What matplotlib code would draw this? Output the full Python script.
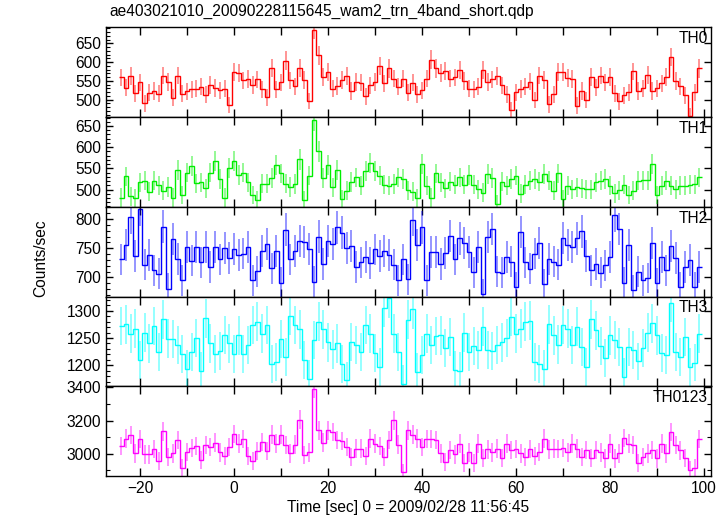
import numpy as np
import matplotlib
matplotlib.use('Agg')
import matplotlib.pyplot as plt
from matplotlib.ticker import MultipleLocator

plt.rcParams['font.family'] = ['Liberation Sans', 'DejaVu Sans']

# light curve bins: 1 s, first bin centred at -24 s
t_first = -24
bin_width = 1.0

th0 = [559, 532, 562, 517, 546, 490, 518, 523, 516, 564,
       547, 505, 564, 516, 522, 527, 529, 534, 513, 539,
       531, 525, 529, 485, 573, 570, 551, 555, 539, 554,
       527, 506, 585, 527, 546, 604, 551, 535, 585, 552,
       496, 687, 618, 561, 573, 529, 536, 552, 562, 523,
       547, 545, 509, 538, 547, 589, 543, 583, 556, 534,
       556, 518, 545, 514, 525, 556, 607, 583, 571, 577,
       556, 559, 579, 550, 529, 527, 534, 579, 547, 554,
       562, 538, 514, 471, 519, 528, 534, 548, 499, 564,
       552, 487, 514, 573, 573, 557, 555, 484, 523, 499,
       561, 533, 564, 546, 561, 517, 495, 511, 519, 575,
       523, 530, 566, 523, 530, 543, 560, 614, 550, 535,
       511, 457, 520, 583]

th1 = [481, 531, 484, 479, 517, 521, 495, 521, 510, 497,
       506, 481, 547, 487, 540, 555, 515, 517, 503, 540,
       567, 525, 481, 550, 567, 535, 540, 517, 487, 475,
       514, 514, 527, 559, 538, 514, 506, 513, 571, 475,
       533, 665, 590, 527, 559, 505, 546, 477, 497, 518,
       529, 509, 544, 562, 543, 533, 511, 509, 513, 529,
       525, 498, 495, 479, 560, 509, 481, 538, 517, 503,
       519, 511, 529, 511, 534, 511, 501, 493, 537, 527,
       465, 519, 509, 525, 533, 490, 511, 521, 525, 519,
       537, 521, 497, 538, 477, 509, 501, 505, 503, 501,
       501, 517, 521, 525, 509, 491, 498, 511, 487, 497,
       521, 522, 522, 560, 487, 509, 521, 509, 501, 509,
       509, 511, 512, 529]

th2 = [731, 755, 803, 737, 817, 722, 739, 712, 706, 787,
       681, 766, 732, 695, 752, 729, 752, 726, 752, 718,
       752, 731, 750, 733, 749, 739, 741, 752, 695, 711,
       746, 758, 716, 746, 691, 782, 731, 746, 762, 761,
       749, 693, 770, 723, 763, 758, 786, 777, 750, 754,
       718, 726, 735, 725, 748, 737, 746, 738, 722, 695,
       731, 697, 799, 755, 786, 695, 743, 743, 723, 742,
       771, 731, 767, 759, 743, 709, 752, 672, 769, 783,
       710, 708, 735, 727, 683, 778, 726, 715, 741, 759,
       689, 732, 727, 722, 768, 755, 752, 767, 779, 737,
       712, 723, 708, 721, 735, 807, 783, 691, 755, 678,
       710, 695, 699, 759, 690, 735, 712, 754, 733, 683,
       718, 730, 683, 718]

th3 = [1272, 1275, 1258, 1267, 1209, 1260, 1240, 1272, 1225, 1285,
       1249, 1248, 1237, 1220, 1194, 1225, 1250, 1189, 1286, 1240,
       1221, 1226, 1256, 1240, 1221, 1255, 1221, 1237, 1274, 1280,
       1258, 1274, 1203, 1206, 1248, 1215, 1291, 1274, 1266, 1209,
       1175, 1246, 1280, 1266, 1242, 1229, 1240, 1203, 1172, 1243,
       1237, 1225, 1274, 1258, 1223, 1197, 1306, 1324, 1258, 1225,
       1166, 1284, 1303, 1188, 1218, 1258, 1237, 1254, 1255, 1231,
       1252, 1191, 1189, 1260, 1225, 1235, 1228, 1271, 1228, 1226,
       1237, 1242, 1250, 1289, 1258, 1267, 1280, 1282, 1206, 1203,
       1194, 1275, 1255, 1238, 1274, 1267, 1237, 1271, 1234, 1197,
       1285, 1264, 1236, 1213, 1255, 1246, 1234, 1179, 1234, 1228,
       1207, 1231, 1260, 1277, 1255, 1223, 1218, 1315, 1225, 1215,
       1252, 1197, 1205, 1258]

th0123 = [3046, 3092, 3112, 3002, 3088, 2996, 2996, 3028, 2956, 3136,
          2982, 3002, 3082, 2916, 3012, 3036, 3046, 2962, 3052, 3042,
          3068, 3008, 2988, 3042, 3118, 3062, 3088, 2988, 2956, 3016,
          3072, 3016, 3116, 3062, 3116, 3052, 3002, 3056, 3206, 2992,
          3008, 3392, 3142, 3068, 3142, 3132, 3082, 3076, 3042, 2982,
          3032, 3032, 2988, 3092, 3062, 3048, 2982, 3082, 3202, 3056,
          2888, 3142, 3116, 3092, 3042, 3088, 3088, 3082, 3002, 2948,
          3022, 2996, 3062, 2942, 3008, 2942, 3062, 2976, 3026, 3008,
          3032, 2976, 3062, 3022, 3028, 3002, 2982, 3028, 2988, 3012,
          3092, 3026, 3032, 3028, 3036, 3008, 3062, 3032, 2982, 3022,
          2976, 3022, 3008, 2972, 3062, 2972, 3002, 3096, 3062, 3052,
          2942, 2982, 3002, 3022, 2972, 3062, 3002, 3132, 3052, 3020,
          2974, 2900, 2914, 3088]

# name, rates, colour, y-range, major step, minor step
panels = [
    ('TH0', th0, '#ff0000', (453, 693), 50, 10),
    ('TH1', th1, '#00ee00', (459, 671), 50, 10),
    ('TH2', th2, '#0000ff', (667, 821), 50, 10),
    ('TH3', th3, '#00ffff', (1161, 1326), 50, 10),
    ('TH0123', th0123, '#ff00ff', (2865, 3405), 200, 100),
]

fig, axes = plt.subplots(5, 1, sharex=True, figsize=(7.27, 5.16), dpi=100)
fig.subplots_adjust(left=0.146, right=0.978, top=0.947, bottom=0.077, hspace=0)

for ax, (name, rate, color, ylim, major, minor) in zip(axes, panels):
    rate = np.array(rate, dtype=float)
    t = t_first + bin_width * np.arange(len(rate))
    edges = np.append(t - bin_width / 2, t[-1] + bin_width / 2)
    err = np.sqrt(rate / bin_width)

    ax.errorbar(t, rate, yerr=err, fmt='none', ecolor=color,
                elinewidth=1.3, alpha=0.45, capsize=0)
    ax.stairs(rate, edges, baseline=None, color=color, lw=1.0)

    ax.set_xlim(-27.2, 101.5)
    ax.set_ylim(*ylim)
    ax.xaxis.set_major_locator(MultipleLocator(20))
    ax.xaxis.set_minor_locator(MultipleLocator(10))
    ax.yaxis.set_major_locator(MultipleLocator(major))
    ax.yaxis.set_minor_locator(MultipleLocator(minor))
    ax.tick_params(axis='x', which='both', direction='in', top=True,
                   bottom=True, length=6, width=1, labelsize=11.2)
    ax.tick_params(axis='y', which='major', direction='in', left=True,
                   right=True, length=5, width=1, labelsize=11.2)
    ax.tick_params(axis='y', which='minor', direction='in', left=True,
                   right=(name == 'TH0123'), length=3, width=0.8)
    for sp in ax.spines.values():
        sp.set_linewidth(1.0)
    ax.text(0.995, 0.96, name, transform=ax.transAxes, ha='right', va='top',
            fontsize=11.2)

fig.text(0.151, 0.977, 'ae403021010_20090228115645_wam2_trn_4band_short.qdp',
         ha='left', va='center', fontsize=11.2)
fig.text(0.056, 0.5, 'Counts/sec', rotation=90, ha='center', va='center',
         fontsize=11.2)
fig.text(0.561, 0.016, 'Time [sec] 0 = 2009/02/28 11:56:45', ha='center',
         va='center', fontsize=11.2)

fig.savefig('out.png', dpi=100)
